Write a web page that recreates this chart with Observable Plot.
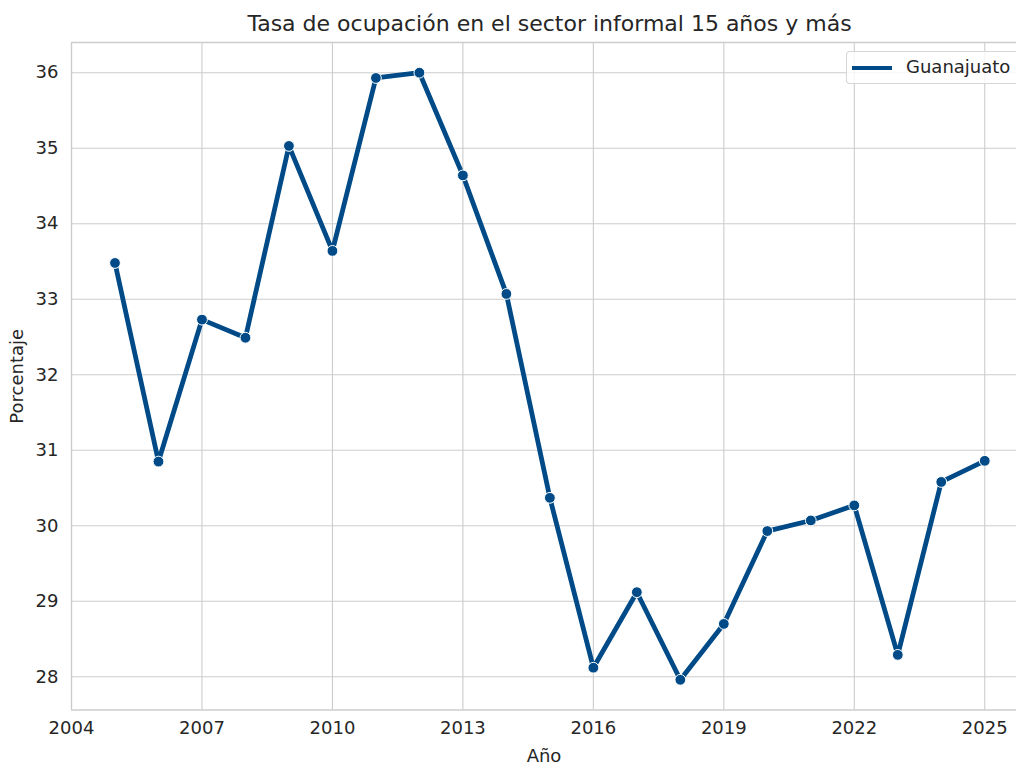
<!DOCTYPE html>
<html>
<head>
<meta charset="utf-8">
<script src="https://cdn.jsdelivr.net/npm/d3@7"></script>
<script src="https://cdn.jsdelivr.net/npm/@observablehq/plot@0.6"></script>
<style>
  html, body { margin: 0; padding: 0; background: #fff; }
  body { width: 1016px; height: 764px; overflow: hidden; position: relative; font-family: "DejaVu Sans", sans-serif; color: #262626; }
  #title { position: absolute; left: 71px; width: 957px; top: 11px; text-align: center; font-size: 22px; line-height: 25px; white-space: nowrap; }
  #chart { position: absolute; left: 0; top: 36px; }
  #legend { position: absolute; left: 846px; top: 51px; width: 190px; height: 33px; box-sizing: border-box;
            border: 1px solid rgba(204,204,204,0.8); border-radius: 4px; background: rgba(255,255,255,0.8); }
  #legend .swatch { position: absolute; left: 5px; top: 14px; width: 40px; height: 3.8px; background: #004b87; }
  #legend .lab { position: absolute; left: 59px; top: 5px; font-size: 18px; line-height: 20px; }
</style>
</head>
<body>
<div id="title">Tasa de ocupación en el sector informal 15 años y más</div>
<div id="chart"></div>
<div id="legend"><div class="swatch"></div><div class="lab">Guanajuato</div></div>
<script>
const years = [2005, 2006, 2007, 2008, 2009, 2010, 2011, 2012, 2013, 2014, 2015, 2016, 2017, 2018, 2019, 2020, 2021, 2022, 2023, 2024, 2025];
const values = [33.48, 30.85, 32.73, 32.49, 35.03, 33.64, 35.93, 36.00, 34.64, 33.07, 30.37, 28.12, 29.12, 27.96, 28.70, 29.93, 30.07, 30.27, 28.29, 30.58, 30.86];
const xTicks = [2004, 2007, 2010, 2013, 2016, 2019, 2022, 2025];
const yTicks = [28, 29, 30, 31, 32, 33, 34, 35, 36];
const seriesName = "Guanajuato";

const data = years.map((y, i) => ({year: y, value: values[i], serie: seriesName}));
const xDomain = [2004, 2025.73];
const yDomain = [27.56, 36.40];
const lineColor = "#004b87";
const gridColor = "#cccccc";

const chart = Plot.plot({
  width: 1016,
  height: 728,
  marginLeft: 71,
  marginRight: 0,
  marginTop: 6,
  marginBottom: 54.5,
  style: {fontFamily: "DejaVu Sans, sans-serif", fontSize: "18px", color: "#262626", background: "white", overflow: "visible"},
  x: {domain: xDomain, ticks: xTicks, tickFormat: "d", label: "Año", labelAnchor: "center", labelArrow: "none", tickSize: 0, tickPadding: 11, labelOffset: 52},
  y: {domain: yDomain, ticks: yTicks, tickFormat: "d", label: "Porcentaje", labelAnchor: "center", labelArrow: "none", tickSize: 0, tickPadding: 13, labelOffset: 61},
  marks: [
    Plot.gridX(xTicks, {stroke: gridColor, strokeOpacity: 1, strokeWidth: 1.1}),
    Plot.gridY(yTicks, {stroke: gridColor, strokeOpacity: 1, strokeWidth: 1.1}),
    Plot.ruleX([xDomain[0]], {stroke: gridColor, strokeWidth: 1.3}),
    Plot.ruleY([yDomain[0], yDomain[1]], {stroke: gridColor, strokeWidth: 1.3}),
    Plot.line(data, {x: "year", y: "value", stroke: lineColor, strokeWidth: 4.8, strokeLinejoin: "miter", strokeLinecap: "butt"}),
    Plot.dot(data, {x: "year", y: "value", r: 5.4, fill: lineColor, stroke: "white", strokeWidth: 1})
  ]
});
document.getElementById("chart").appendChild(chart);
</script>
</body>
</html>
